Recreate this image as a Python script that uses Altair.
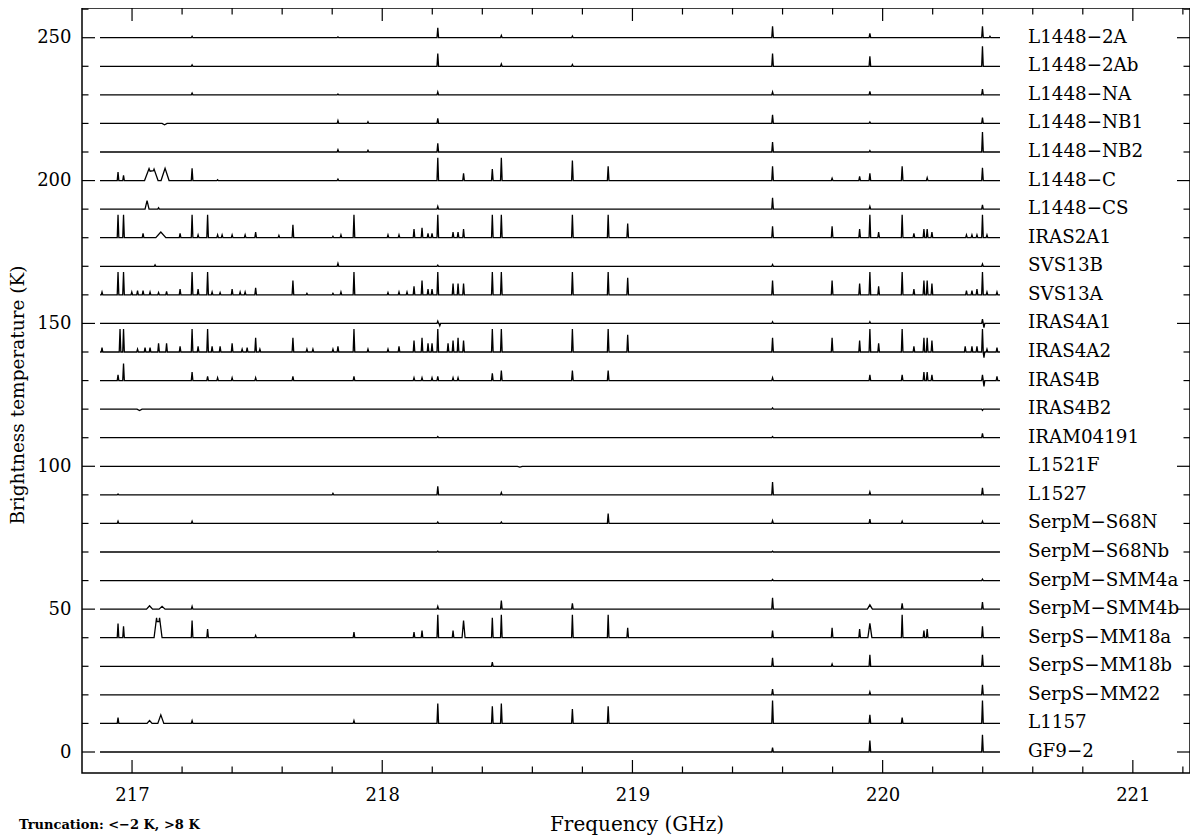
import altair as alt
import pandas as pd

alt.data_transformers.disable_max_rows()

# ---------------- data ----------------
SOURCES = ["L1448−2A", "L1448−2Ab", "L1448−NA", "L1448−NB1", "L1448−NB2", "L1448−C",
           "L1448−CS", "IRAS2A1", "SVS13B", "SVS13A", "IRAS4A1", "IRAS4A2", "IRAS4B",
           "IRAS4B2", "IRAM04191", "L1521F", "L1527", "SerpM−S68N", "SerpM−S68Nb",
           "SerpM−SMM4a", "SerpM−SMM4b", "SerpS−MM18a", "SerpS−MM18b", "SerpS−MM22",
           "L1157", "GF9−2"]
OFFSETS = [250, 240, 230, 220, 210, 200, 190, 180, 170, 160, 150, 140, 130,
           120, 110, 100, 90, 80, 70, 60, 50, 40, 30, 20, 10, 0]

F_START, F_END = 216.872, 220.469   # spectral coverage (GHz)

# each entry: (frequency GHz, peak K [, half width GHz])
L1448_2A = [(217.240, 0.5), (217.823, 0.3), (218.222, 3.5), (218.476, 0.8), (218.760, 0.6),
            (219.560, 4.0), (219.949, 1.5), (220.399, 4.0), (220.429, 0.5)]
L1448_2Ab = [(217.240, 0.5), (218.222, 4.5), (218.476, 0.8), (218.760, 0.6), (219.560, 4.5),
             (219.949, 3.5), (220.399, 7.0)]
L1448_NA = [(217.240, 0.6), (217.823, 0.3), (218.222, 1.0), (219.560, 1.0), (219.949, 1.2),
            (220.399, 2.0)]
L1448_NB1 = [(217.130, -0.5, 0.01), (217.823, 1.0), (217.943, 0.6), (218.222, 1.8),
             (219.560, 3.0), (219.949, 0.5), (220.399, 2.0)]
L1448_NB2 = [(217.823, 0.8), (217.943, 0.6), (218.222, 3.0), (219.560, 3.5), (219.949, 0.5),
             (220.399, 7.0)]
L1448_C = [(216.944, 3.0), (216.966, 1.8), (217.068, 4.2, 0.018), (217.088, 4.0, 0.016),
           (217.132, 4.3, 0.016), (217.240, 4.3), (217.342, 0.3), (217.823, 0.5),
           (218.222, 8), (218.325, 2.5), (218.440, 4), (218.476, 8), (218.760, 7),
           (218.903, 5), (219.560, 5), (219.798, 0.8), (219.908, 1.5), (219.949, 2.5),
           (220.078, 5.0), (220.178, 1.0), (220.399, 4.5)]
L1448_CS = [(217.060, 3.0, 0.008), (217.106, 0.5), (218.222, 1.0), (219.560, 4.0),
            (219.949, 1.0), (220.399, 1.5)]
IRAS2A1 = [(216.944, 8), (216.966, 8), (217.044, 1.5), (217.115, 2.0, 0.02), (217.192, 1.5),
           (217.240, 8), (217.264, 1), (217.302, 8), (217.342, 1), (217.360, 1), (217.400, 1),
           (217.452, 1), (217.494, 2), (217.587, 0.8), (217.643, 4.5), (217.803, 0.5),
           (217.835, 1), (217.887, 8), (218.023, 1), (218.067, 1), (218.127, 3), (218.159, 3.5),
           (218.183, 1.5), (218.199, 1.5), (218.222, 8), (218.283, 2), (218.303, 2),
           (218.325, 3), (218.440, 8), (218.476, 8), (218.760, 8), (218.903, 8), (218.981, 5),
           (219.560, 4), (219.798, 4), (219.908, 3), (219.949, 8), (219.984, 2), (220.078, 8),
           (220.125, 1.5), (220.165, 3), (220.178, 3), (220.197, 2), (220.335, 1),
           (220.357, 1), (220.377, 1), (220.399, 8), (220.417, 1)]
SVS13B = [(217.092, 0.5), (217.823, 1.0), (218.222, 0.4), (219.560, 0.6), (220.399, 0.8)]
SVS13A = [(216.880, 1), (216.944, 8), (216.966, 8), (216.999, 1), (217.022, 1.5), (217.044, 1.5),
          (217.072, 1), (217.106, 0.8), (217.138, 1.2), (217.192, 2), (217.240, 8), (217.264, 2),
          (217.302, 8), (217.320, 1), (217.352, 0.8), (217.400, 2), (217.432, 1), (217.452, 1),
          (217.494, 2.5), (217.643, 5), (217.699, 0.5), (217.803, 0.5), (217.835, 1),
          (217.887, 8), (218.023, 0.8), (218.067, 1), (218.099, 1), (218.127, 3), (218.159, 5),
          (218.183, 2), (218.199, 2), (218.222, 8), (218.283, 4), (218.303, 4), (218.325, 4),
          (218.440, 8), (218.476, 8), (218.760, 8), (218.903, 8), (218.981, 6), (219.560, 5),
          (219.798, 5), (219.908, 4), (219.949, 8), (219.984, 3), (220.078, 8), (220.125, 2),
          (220.165, 5), (220.178, 5), (220.197, 4), (220.335, 1.5), (220.357, 1.5),
          (220.377, 2), (220.399, 8), (220.417, 1), (220.457, 1)]
IRAS4A1 = [(218.222, 0.8), (218.230, -0.8), (219.560, 0.6), (219.949, 0.6), (220.399, 1.5),
           (220.405, -1.5)]
IRAS4A2 = [(216.880, 1.5), (216.952, 8), (216.966, 8), (217.022, 1), (217.052, 1.5),
           (217.072, 1.5), (217.106, 3), (217.138, 3), (217.192, 2), (217.240, 8), (217.264, 2),
           (217.302, 8), (217.320, 2), (217.352, 2), (217.400, 3), (217.440, 1), (217.460, 1.5),
           (217.494, 5), (217.511, 1), (217.643, 5), (217.699, 1), (217.723, 1), (217.803, 1),
           (217.823, 2), (217.887, 8), (217.943, 1), (218.023, 1), (218.067, 2), (218.127, 4),
           (218.159, 5), (218.183, 3), (218.199, 3), (218.222, 8), (218.263, 3), (218.283, 4),
           (218.303, 5), (218.325, 4), (218.440, 8), (218.476, 8), (218.760, 8), (218.903, 8),
           (218.981, 6), (219.560, 5), (219.798, 5), (219.908, 4), (219.949, 8), (219.984, 3),
           (220.078, 8), (220.125, 2), (220.165, 5), (220.178, 5), (220.197, 4), (220.330, 2),
           (220.357, 2), (220.377, 2), (220.399, 8), (220.405, -2), (220.417, 1),
           (220.457, 1.5)]
IRAS4B = [(216.944, 2), (216.966, 6), (217.240, 3), (217.302, 1.5), (217.342, 1), (217.400, 1),
          (217.494, 1), (217.643, 1.5), (217.887, 1.5), (218.127, 1), (218.159, 1),
          (218.199, 1), (218.222, 1.5), (218.283, 1), (218.303, 1), (218.440, 2.5),
          (218.476, 3.5), (218.760, 3.5), (218.903, 3.5), (219.560, 1), (219.949, 2),
          (220.078, 2), (220.165, 3), (220.178, 3), (220.197, 2), (220.399, 2),
          (220.405, -2), (220.457, 1.5)]
IRAS4B2 = [(217.030, -0.5, 0.01), (219.560, 0.4), (220.399, -0.4)]
IRAM04191 = [(218.222, 0.4), (219.560, 0.4), (220.399, 1.5)]
L1521F = [(218.550, -0.3, 0.01)]
L1527 = [(216.944, 0.3), (217.803, 0.5), (218.222, 3.0), (218.476, 0.8), (219.560, 4.5),
         (219.949, 1.0), (220.399, 2.5)]
S68N = [(216.944, 0.8), (217.240, 0.8), (218.222, 0.5), (218.476, 0.5), (218.903, 3.5),
        (219.560, 1.0), (219.949, 1.5), (220.078, 0.8), (220.399, 0.8)]
S68Nb = [(218.222, 0.3), (219.560, 0.3)]
SMM4a = [(219.560, 0.4), (220.399, 0.5)]
SMM4b = [(217.070, 1.2, 0.012), (217.120, 1.0, 0.012), (217.240, 1.0), (218.222, 1.0),
         (218.476, 3.0), (218.760, 2.0), (219.560, 4.0), (219.949, 1.5, 0.01), (220.078, 2.0),
         (220.399, 2.5)]
MM18a = [(216.944, 5), (216.966, 4), (217.098, 7, 0.01), (217.110, 7, 0.01), (217.240, 6),
         (217.302, 3), (217.494, 0.8), (217.887, 2), (218.127, 2), (218.159, 2.5),
         (218.222, 8), (218.283, 2.5), (218.325, 6, 0.006), (218.440, 7), (218.476, 8),
         (218.760, 8), (218.903, 8), (218.981, 3.5), (219.560, 2.5), (219.798, 3.5),
         (219.908, 3), (219.949, 5, 0.008), (220.078, 8), (220.165, 2.5), (220.178, 3),
         (220.399, 4)]
MM18b = [(218.440, 1.5), (219.560, 3.0), (219.798, 0.8), (219.949, 4.0), (220.399, 4.0)]
MM22 = [(219.560, 2.0), (219.949, 1.0), (220.399, 3.5)]
L1157 = [(216.944, 2), (217.070, 1.0, 0.01), (217.115, 3.0, 0.012), (217.240, 1.0),
         (217.887, 1.0), (218.222, 7), (218.440, 6), (218.476, 7), (218.760, 5), (218.903, 6),
         (219.560, 8), (219.949, 3), (220.078, 2), (220.399, 8)]
GF9_2 = [(219.560, 1.5), (219.949, 4.0), (220.399, 6.0)]

LINES = [L1448_2A, L1448_2Ab, L1448_NA, L1448_NB1, L1448_NB2, L1448_C, L1448_CS, IRAS2A1,
         SVS13B, SVS13A, IRAS4A1, IRAS4A2, IRAS4B, IRAS4B2, IRAM04191, L1521F, L1527, S68N,
         S68Nb, SMM4a, SMM4b, MM18a, MM18b, MM22, L1157, GF9_2]

X_MAJOR = [217, 218, 219, 220, 221]
X_MINOR = [217.2, 217.4, 217.6, 217.8, 218.2, 218.4, 218.6, 218.8, 219.2, 219.4, 219.6,
           219.8, 220.2, 220.4, 220.6, 220.8, 221.2]
Y_MAJOR = [0, 50, 100, 150, 200, 250]
Y_MINOR = [10, 20, 30, 40, 60, 70, 80, 90, 110, 120, 130, 140, 160, 170, 180, 190,
           210, 220, 230, 240, 260]

# ---------------- build the spectra table ----------------
NARROW = 0.0032
rows = []
for name, off, lines in zip(SOURCES, OFFSETS, LINES):
    parsed = [(ln[0], ln[1], ln[2] if len(ln) > 2 else NARROW) for ln in lines]
    bps = {F_START, F_END}
    for f, h, w in parsed:
        bps.update([f - w, f, f + w])
    for x in sorted(bps):
        v = 0.0
        for f, h, w in parsed:
            d = abs(x - f)
            if d < w:
                v += h * (1 - d / w)
        v = max(-2.0, min(8.0, v))
        rows.append({"src": name, "f": x, "T": off + v})
spec = pd.DataFrame(rows)
labels = pd.DataFrame({"name": SOURCES, "off": OFFSETS})

# ---------------- layout ----------------
W, H = 1108, 765
FONT = "DejaVu Serif"
xs = alt.Scale(domain=[216.8, 216.8 + W / 250.2], nice=False, zero=False)
ys = alt.Scale(domain=[-7.35, 260.4], nice=False, zero=False)

x_axis = alt.Axis(values=X_MAJOR, format="d", title=None, grid=False, ticks=False, tickSize=0,
                  domain=False, labelFont=FONT, labelFontSize=18, labelColor="black",
                  labelPadding=13)
y_axis = alt.Axis(values=Y_MAJOR, format="d", title=None, grid=False, ticks=False, tickSize=0,
                  domain=False, labelFont=FONT, labelFontSize=18, labelColor="black",
                  labelPadding=11)

spectra = alt.Chart(spec).mark_line(color="black", strokeWidth=1.3, clip=True).encode(
    x=alt.X("f:Q", scale=xs, axis=x_axis),
    y=alt.Y("T:Q", scale=ys, axis=y_axis),
    detail="src:N",
)

MAJ, MIN = 13, 6.5
xmaj = pd.DataFrame({"v": X_MAJOR})
xmin = pd.DataFrame({"v": X_MINOR})
ymaj = pd.DataFrame({"v": Y_MAJOR})
ymin = pd.DataFrame({"v": Y_MINOR})


def xticks(df, length):
    bottom = alt.Chart(df).mark_rule(color="black", strokeWidth=1.2).encode(
        x=alt.X("v:Q", scale=xs, axis=x_axis), y=alt.value(H), y2=alt.value(H - length))
    top = alt.Chart(df).mark_rule(color="black", strokeWidth=1.2).encode(
        x=alt.X("v:Q", scale=xs, axis=x_axis), y=alt.value(0), y2=alt.value(length))
    return [bottom, top]


def yticks(df, length):
    left = alt.Chart(df).mark_rule(color="black", strokeWidth=1.2).encode(
        y=alt.Y("v:Q", scale=ys, axis=y_axis), x=alt.value(0), x2=alt.value(length))
    right = alt.Chart(df).mark_rule(color="black", strokeWidth=1.2).encode(
        y=alt.Y("v:Q", scale=ys, axis=y_axis), x=alt.value(W), x2=alt.value(W - length))
    return [left, right]


names = alt.Chart(labels).mark_text(align="left", baseline="middle", font=FONT, fontSize=18.3,
                                    color="black").encode(
    x=alt.value(946), y=alt.Y("off:Q", scale=ys, axis=y_axis), text="name:N")

ytitle = alt.Chart(pd.DataFrame({"t": ["Brightness temperature (K)"]})).mark_text(
    angle=270, align="center", baseline="middle", font=FONT, fontSize=18.5, color="black"
).encode(x=alt.value(-64), y=alt.value(387), text="t:N")

xtitle = alt.Chart(pd.DataFrame({"t": ["Frequency (GHz)"]})).mark_text(
    align="center", baseline="middle", font=FONT, fontSize=20, color="black"
).encode(x=alt.value(W / 2 + 1), y=alt.value(H + 52), text="t:N")

note = alt.Chart(pd.DataFrame({"t": ["Truncation: <−2 K, >8 K"]})).mark_text(
    align="left", baseline="middle", font=FONT, fontSize=13, fontWeight="bold", color="black"
).encode(x=alt.value(-63), y=alt.value(H + 52), text="t:N")

layers = [spectra] + xticks(xmaj, MAJ) + xticks(xmin, MIN) + yticks(ymaj, MAJ) + \
    yticks(ymin, MIN) + [names, ytitle, xtitle, note]

chart = alt.layer(*layers).properties(
    width=W, height=H,
    autosize=alt.AutoSizeParams(type="none"),
    padding={"left": 74, "top": 0, "right": 0, "bottom": 62},
).configure_view(stroke="black", strokeWidth=1.5)

chart.save("out.html", embed_options={"renderer": "svg", "actions": False})
